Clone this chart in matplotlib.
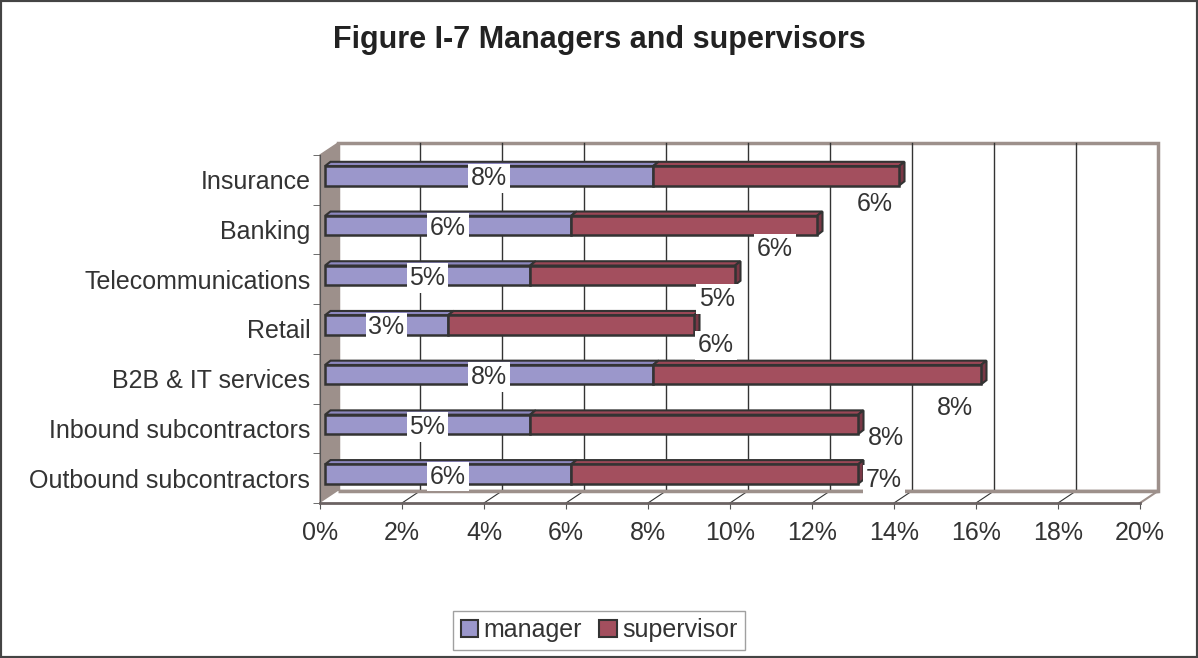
import matplotlib.pyplot as plt
import numpy as np
from matplotlib.patches import Polygon, Rectangle, Patch

plt.rcParams['font.family'] = ['Liberation Sans', 'DejaVu Sans']

categories = ['Insurance', 'Banking', 'Telecommunications', 'Retail',
              'B2B & IT services', 'Inbound subcontractors', 'Outbound subcontractors']
manager = [8, 6, 5, 3, 8, 5, 6]
supervisor = [6, 6, 5, 6, 8, 8, 7]
# where excel dropped the supervisor labels (pixels from the bar end)
sup_label_offsets = [(-24, -26), (-42, -21), (-18, -21), (22, -18), (-26, -31), (28, -11), (26, -3)]

col_man = '#9b97cb'
col_man_top = '#8d88bf'
col_sup = '#a34f5e'
col_sup_top = '#9a4756'
col_sup_side = '#7a3846'
edge = '#333333'
wall = '#9d908b'
txt = '#333333'

W, H = 1198, 658
fig = plt.figure(figsize=(W / 100, H / 100), dpi=100)
ax = fig.add_axes([320 / W, 1 - 503 / H, 820 / W, 348 / H])
ax.set_xlim(0, 20)
ax.set_ylim(6.5, -0.5)

# pixel -> data conversion for the fake 3d offsets
sx = 20 / 820.0
sy = 7 / 348.0
Dx, Dy = 18 * sx, -12 * sy          # depth of the whole plot box
bx, by = 5 * sx, -4 * sy            # bar front face behind the front plane
bdx, bdy = 5.5 * sx, -4.3 * sy      # depth of a bar
bh = 19.5 * sy

# side wall
ax.add_patch(Polygon([(0, 6.5), (0, -0.5), (Dx, -0.5 + Dy), (Dx, 6.5 + Dy)],
                     closed=True, facecolor=wall, edgecolor=wall, lw=1, zorder=1, clip_on=False))
# back wall
ax.add_patch(Rectangle((Dx, -0.5 + Dy), 20, 7, facecolor='white', edgecolor=wall, lw=2.5,
                       zorder=1, clip_on=False))
for g in range(2, 20, 2):
    ax.plot([g + Dx, g + Dx], [-0.5 + Dy, 6.5 + Dy], color=edge, lw=1, zorder=2, clip_on=False)
# floor
ax.add_patch(Polygon([(0, 6.5), (20, 6.5), (20 + Dx, 6.5 + Dy), (Dx, 6.5 + Dy)],
                     closed=True, facecolor='white', edgecolor='none', zorder=2, clip_on=False))
for g in range(2, 20, 2):
    ax.plot([g, g + Dx], [6.5, 6.5 + Dy], color=edge, lw=0.8, zorder=2, clip_on=False)
ax.plot([Dx, 20 + Dx], [6.5 + Dy, 6.5 + Dy], color=wall, lw=2.5, zorder=2,
        solid_capstyle='butt', clip_on=False)
ax.plot([20, 20 + Dx], [6.5, 6.5 + Dy], color=wall, lw=1.5, zorder=2, clip_on=False)

# bars
y = np.arange(len(categories))
yc = y + by
total = np.array(manager) + np.array(supervisor)
for i in range(len(categories)):
    yt = yc[i] - bh / 2
    yb = yc[i] + bh / 2
    segs = [(bx, bx + manager[i], col_man_top), (bx + manager[i], bx + total[i], col_sup_top)]
    for x0, x1, c in segs:
        ax.add_patch(Polygon([(x0, yt), (x1, yt), (x1 + bdx, yt + bdy), (x0 + bdx, yt + bdy)],
                             closed=True, facecolor=c, edgecolor=edge, lw=1.5, zorder=3,
                             clip_on=False))
    x1 = bx + total[i]
    ax.add_patch(Polygon([(x1, yt), (x1, yb), (x1 + bdx, yb + bdy), (x1 + bdx, yt + bdy)],
                         closed=True, facecolor=col_sup_side, edgecolor=edge, lw=1.5, zorder=3,
                         clip_on=False))
ax.barh(yc, manager, left=bx, height=bh, color=col_man, edgecolor=edge, lw=1.8, zorder=4)
ax.barh(yc, supervisor, left=bx + np.array(manager), height=bh, color=col_sup,
        edgecolor=edge, lw=1.8, zorder=4)

box = dict(facecolor='white', edgecolor='none', pad=2)
for i in range(len(categories)):
    ax.text(bx + manager[i] / 2, yc[i], f'{manager[i]}%', ha='center', va='center_baseline',
            fontsize=18, color=txt, bbox=box, zorder=6)
    ax.annotate(f'{supervisor[i]}%', xy=(bx + total[i], yc[i]), xytext=sup_label_offsets[i],
                textcoords='offset pixels', ha='center', va='center_baseline', fontsize=18,
                color=txt, bbox=box, zorder=6, annotation_clip=False)

# axes
for s in ['top', 'right']:
    ax.spines[s].set_visible(False)
ax.spines['left'].set_color('#555555')
ax.spines['bottom'].set_color('#6b6262')
ax.spines['bottom'].set_linewidth(2)
ax.spines['left'].set_zorder(5)
ax.spines['bottom'].set_zorder(5)
ax.set_xticks(np.arange(0, 21, 2))
ax.set_xticklabels([f'{v}%' for v in range(0, 21, 2)], fontsize=18, color=txt)
ax.tick_params(axis='x', length=4, color='#555555', pad=9)
ax.set_yticks(y)
ax.set_yticklabels(categories, fontsize=18, color=txt)
ax.set_yticks(np.arange(-0.5, 7, 1), minor=True)
ax.tick_params(axis='y', which='major', length=0, pad=7)
ax.tick_params(axis='y', which='minor', length=5, color='#555555')
ax.patch.set_visible(False)

fig.text(599 / W, 1 - 40 / H, 'Figure I-7 Managers and supervisors', ha='center', va='center',
         fontsize=22, fontweight='bold', color='#222222')

handles = [Patch(facecolor=col_man, edgecolor=edge, lw=1.5, label='manager'),
           Patch(facecolor=col_sup, edgecolor=edge, lw=1.5, label='supervisor')]
leg = fig.legend(handles=handles, loc='center', bbox_to_anchor=(599 / W, 1 - 630 / H), ncol=2,
                 fontsize=18, frameon=True, fancybox=False, edgecolor='#888888',
                 handlelength=0.7, handleheight=0.7, handletextpad=0.2, columnspacing=0.7,
                 borderpad=0.3, borderaxespad=0, labelcolor=txt)
leg.get_frame().set_linewidth(1)

fig.patches.append(Rectangle((0, 0), 1, 1, transform=fig.transFigure, fill=False,
                             edgecolor='#444444', lw=3))

fig.savefig('out.png', dpi=100)
